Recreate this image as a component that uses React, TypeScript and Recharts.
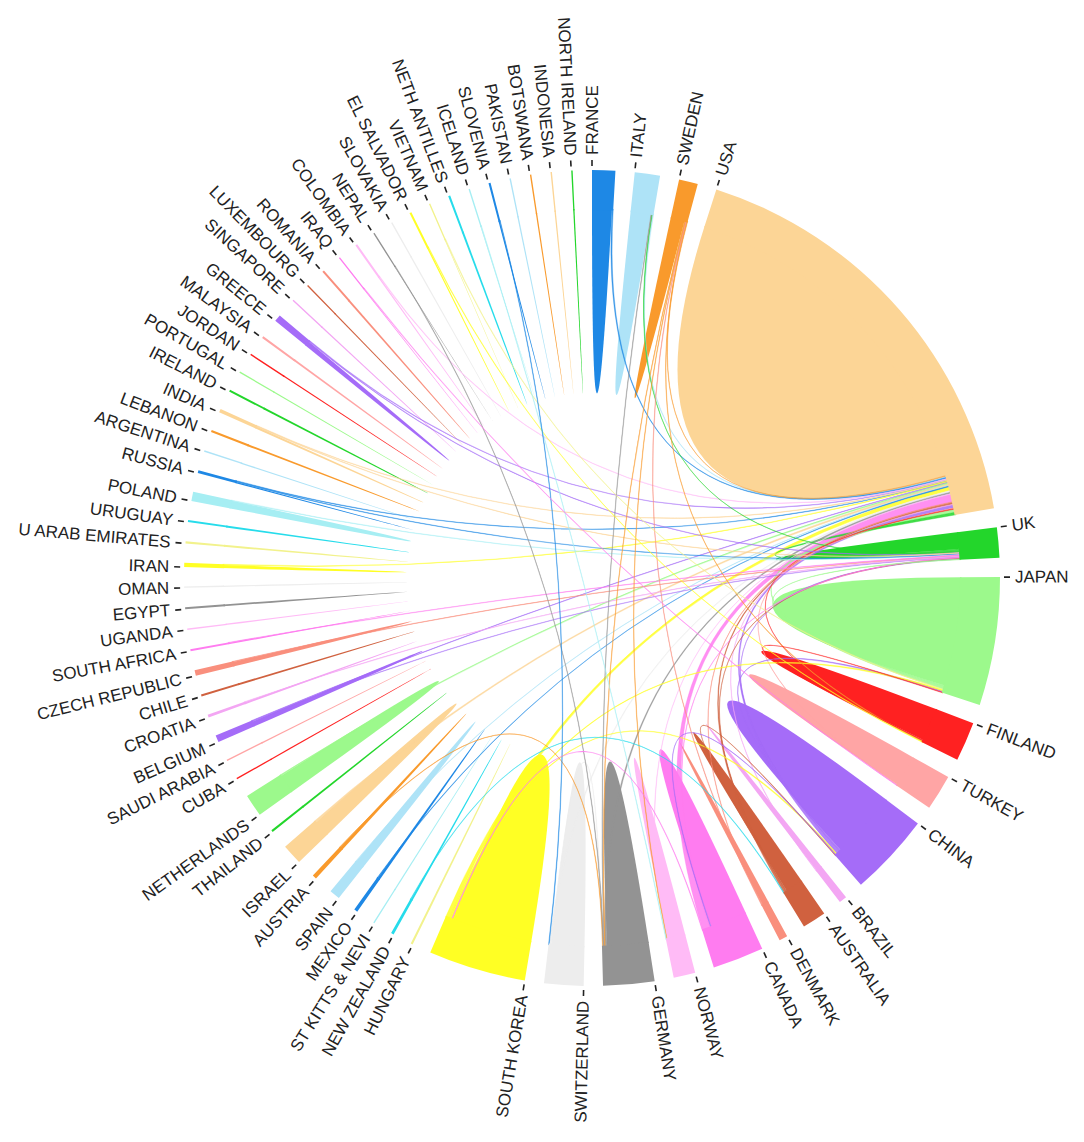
import React from 'react';
import { PieChart, Pie, Cell, Customized } from 'recharts';

// ---------- data ----------
const countries: string[] = [
  'FRANCE', 'ITALY', 'SWEDEN', 'USA', 'UK', 'JAPAN', 'FINLAND', 'TURKEY', 'CHINA', 'BRAZIL',
  'AUSTRALIA', 'DENMARK', 'CANADA', 'NORWAY', 'GERMANY', 'SWITZERLAND', 'SOUTH KOREA', 'HUNGARY',
  'NEW ZEALAND', 'ST KITTS & NEVI', 'MEXICO', 'SPAIN', 'AUSTRIA', 'ISRAEL', 'THAILAND', 'NETHERLANDS',
  'CUBA', 'SAUDI ARABIA', 'BELGIUM', 'CROATIA', 'CHILE', 'CZECH REPUBLIC', 'SOUTH AFRICA', 'UGANDA',
  'EGYPT', 'OMAN', 'IRAN', 'U ARAB EMIRATES', 'URUGUAY', 'POLAND', 'RUSSIA', 'ARGENTINA', 'LEBANON',
  'INDIA', 'IRELAND', 'PORTUGAL', 'JORDAN', 'MALAYSIA', 'GREECE', 'SINGAPORE', 'LUXEMBOURG', 'ROMANIA',
  'IRAQ', 'COLOMBIA', 'NEPAL', 'SLOVAKIA', 'EL SALVADOR', 'VIETNAM', 'NETH ANTILLES', 'ICELAND',
  'SLOVENIA', 'PAKISTAN', 'BOTSWANA', 'INDONESIA', 'NORTH IRELAND',
];

// within-country collaboration (self flows), aligned with countries
const selfFlows: number[] = [
  31, 32, 22, 562, 26, 171, 52, 49, 106, 10,
  28, 10, 58, 28, 65, 52, 128, 3,
  3, 2, 4, 14, 5, 26, 3, 30,
  2, 2, 8, 3, 3, 7, 2, 2,
  3, 2, 5, 3, 3, 12, 2, 2, 3,
  3, 3, 2, 2, 3, 8, 2, 2, 3,
  1, 2, 1, 2, 2, 1, 3, 1,
  2, 2, 2, 2, 2,
];

// cross-country collaborations [source (ribbon colour), target, value]
const links: [string, string, number][] = [
  ['CANADA', 'USA', 12], ['SOUTH KOREA', 'USA', 6], ['CHINA', 'USA', 5], ['JAPAN', 'USA', 5],
  ['UK', 'USA', 4], ['GERMANY', 'USA', 3], ['AUSTRALIA', 'USA', 3], ['ISRAEL', 'USA', 3],
  ['SWITZERLAND', 'USA', 2], ['ITALY', 'USA', 2], ['FRANCE', 'USA', 2], ['NETHERLANDS', 'USA', 2],
  ['SWEDEN', 'USA', 1], ['SPAIN', 'USA', 1], ['RUSSIA', 'USA', 1], ['GREECE', 'USA', 1],
  ['BELGIUM', 'USA', 1], ['INDIA', 'USA', 1], ['MEXICO', 'USA', 1], ['BRAZIL', 'USA', 1],
  ['NORWAY', 'USA', 1], ['DENMARK', 'USA', 1], ['TURKEY', 'USA', 1], ['FINLAND', 'USA', 1],
  ['IRAN', 'USA', 1], ['COLOMBIA', 'USA', 1],
  ['CZECH REPUBLIC', 'UK', 1], ['BELGIUM', 'UK', 1], ['GREECE', 'UK', 1], ['POLAND', 'UK', 1],
  ['RUSSIA', 'UK', 1], ['CROATIA', 'UK', 1], ['CHINA', 'UK', 1], ['AUSTRALIA', 'UK', 1],
  ['CANADA', 'UK', 1], ['JAPAN', 'UK', 1], ['UK', 'ITALY', 1], ['SOUTH AFRICA', 'UK', 1],
  ['INDIA', 'UK', 1],
  ['CHINA', 'JAPAN', 2], ['SOUTH KOREA', 'CHINA', 2], ['SOUTH KOREA', 'JAPAN', 2],
  ['AUSTRALIA', 'CHINA', 1], ['CHINA', 'CANADA', 1],
  ['GERMANY', 'ITALY', 1], ['SWITZERLAND', 'GERMANY', 1], ['SWEDEN', 'GERMANY', 1], ['AUSTRIA', 'GERMANY', 1],
  ['SWEDEN', 'FINLAND', 1], ['SWEDEN', 'NORWAY', 1], ['DENMARK', 'SWEDEN', 1],
  ['FINLAND', 'JAPAN', 1], ['NEW ZEALAND', 'AUSTRALIA', 1],
  ['EL SALVADOR', 'FINLAND', 1], ['VIETNAM', 'JAPAN', 1], ['NEPAL', 'GERMANY', 1],
  ['ICELAND', 'NORWAY', 1], ['SLOVENIA', 'SWITZERLAND', 1], ['IRAQ', 'TURKEY', 1],
  ['CANADA', 'SOUTH KOREA', 1],
];

// ---------- styles ----------
const palette = [
  '#1E88E5', '#AEE3F7', '#F99A2C', '#FCD596', '#23D62B', '#9CF98C', '#FF2121', '#FFA5A5',
  '#A56CF8', '#F3A6F3', '#D0613F', '#F98F7D', '#FF7CF0', '#FFBBF6', '#939393', '#EDEDED',
  '#FFFF24', '#F2F28C', '#26DCEB', '#A6EEF3',
];
const W = 1068;
const H = 1126;
const CX = 584;
const CY = 570;
const R_IN = 368;
const R_OUT = 408;
const R_RIB = R_IN + 1.5; // ribbons tuck slightly under the ring to avoid a seam
const PAD = 2.72;

// ---------- derived ----------
const N = countries.length;
const idx: Record<string, number> = {};
countries.forEach((c, i) => (idx[c] = i));
const totals = selfFlows.slice();
links.forEach(([a, b, v]) => {
  totals[idx[a]] += v;
  totals[idx[b]] += v;
});
const pieData = countries.map((name, i) => ({ name, value: totals[i] }));

// same angular layout the pie uses (clockwise from 12 o'clock)
const sumAll = totals.reduce((s, v) => s + v, 0);
const degPerUnit = (360 - N * PAD) / sumAll;
const groupStart: number[] = [];
{
  let prevEnd = 0;
  totals.forEach((v, i) => {
    const s = i === 0 ? 0 : prevEnd + PAD;
    groupStart.push(s);
    prevEnd = s + v * degPerUnit;
  });
}

const pt = (r: number, th: number) => {
  const a = (th * Math.PI) / 180;
  return [CX + r * Math.sin(a), CY - r * Math.cos(a)];
};
const P = (r: number, th: number) => {
  const [x, y] = pt(r, th);
  return `${x.toFixed(2)},${y.toFixed(2)}`;
};
const arcTo = (r: number, a0: number, a1: number) =>
  `A${r},${r} 0 ${a1 - a0 > 180 ? 1 : 0} 1 ${P(r, a1)}`;

type Ribbon = { d: string; color: string; self: boolean; key: string };

function buildRibbons(): Ribbon[] {
  const sub: Record<string, [number, number]> = {};
  const selfArc: [number, number][] = [];
  for (let i = 0; i < N; i++) {
    let cur = groupStart[i];
    selfArc.push([cur, cur + selfFlows[i] * degPerUnit]);
    cur += selfFlows[i] * degPerUnit;
    const mine = links
      .map((l, li) => ({ l, li }))
      .filter(({ l }) => idx[l[0]] === i || idx[l[1]] === i)
      .map(({ l, li }) => {
        const other = idx[l[0]] === i ? idx[l[1]] : idx[l[0]];
        return { li, v: l[2], d: (other - i + N) % N };
      })
      .sort((a, b) => b.d - a.d);
    mine.forEach(({ li, v }) => {
      sub[`${li}-${i}`] = [cur, cur + v * degPerUnit];
      cur += v * degPerUnit;
    });
  }
  const out: Ribbon[] = [];
  selfArc.forEach(([s0, s1], i) => {
    if (s1 <= s0) return;
    out.push({
      key: `s${i}`,
      self: true,
      color: palette[i % palette.length],
      d: `M${P(R_RIB, s0)} ${arcTo(R_RIB, s0, s1)} Q${CX},${CY} ${P(R_RIB, s0)}Z`,
    });
  });
  links.forEach(([a, b], li) => {
    const ia = idx[a];
    const ib = idx[b];
    const [s0, s1] = sub[`${li}-${ia}`];
    const [t0, t1] = sub[`${li}-${ib}`];
    out.push({
      key: `l${li}`,
      self: false,
      color: palette[ia % palette.length],
      d: `M${P(R_RIB, s0)} ${arcTo(R_RIB, s0, s1)} Q${CX},${CY} ${P(R_RIB, t0)} ${arcTo(R_RIB, t0, t1)} Q${CX},${CY} ${P(R_RIB, s0)}Z`,
    });
  });
  return out;
}
const ribbons = buildRibbons();

const RibbonLayer = () => (
  <g>
    {ribbons.filter((r) => r.self).map((r) => (
      <path key={r.key} d={r.d} fill={r.color} stroke="none" />
    ))}
    {ribbons.filter((r) => !r.self).map((r) => (
      <path key={r.key} d={r.d} fill={r.color} fillOpacity={0.85} stroke={r.color} strokeOpacity={0.75} strokeWidth={0.5} />
    ))}
  </g>
);

const renderLabel = (props: any) => {
  const { startAngle, index } = props;
  const sa = typeof startAngle === 'number' ? 90 - startAngle : groupStart[index];
  const th = ((sa % 360) + 360) % 360;
  const [x1, y1] = pt(412, th);
  const [x2, y2] = pt(418, th);
  const [tx, ty] = pt(423, th);
  const right = th < 180;
  const rot = right ? th - 90 : th + 90;
  return (
    <g key={`lab${index}`}>
      <line x1={x1} y1={y1} x2={x2} y2={y2} stroke="#222" strokeWidth={1.6} />
      <text
        x={tx}
        y={ty}
        transform={`rotate(${rot} ${tx} ${ty})`}
        textAnchor={right ? 'start' : 'end'}
        dominantBaseline="central"
        fontFamily="'Liberation Sans', Arial, sans-serif"
        fontSize={17}
        fill="#222"
      >
        {countries[index]}
      </text>
    </g>
  );
};

export default function App() {
  return (
    <div style={{ width: W, height: H, background: '#fff' }}>
      <PieChart width={W} height={H} margin={{ top: 0, right: 0, bottom: 0, left: 0 }}>
        <Customized component={<RibbonLayer />} />
        <Pie
          data={pieData}
          dataKey="value"
          nameKey="name"
          cx={CX}
          cy={CY}
          innerRadius={R_IN}
          outerRadius={R_OUT}
          startAngle={90}
          endAngle={-270}
          paddingAngle={PAD}
          stroke="none"
          isAnimationActive={false}
          label={renderLabel}
          labelLine={false}
        >
          {pieData.map((d, i) => (
            <Cell key={d.name} fill={palette[i % palette.length]} />
          ))}
        </Pie>
      </PieChart>
    </div>
  );
}
